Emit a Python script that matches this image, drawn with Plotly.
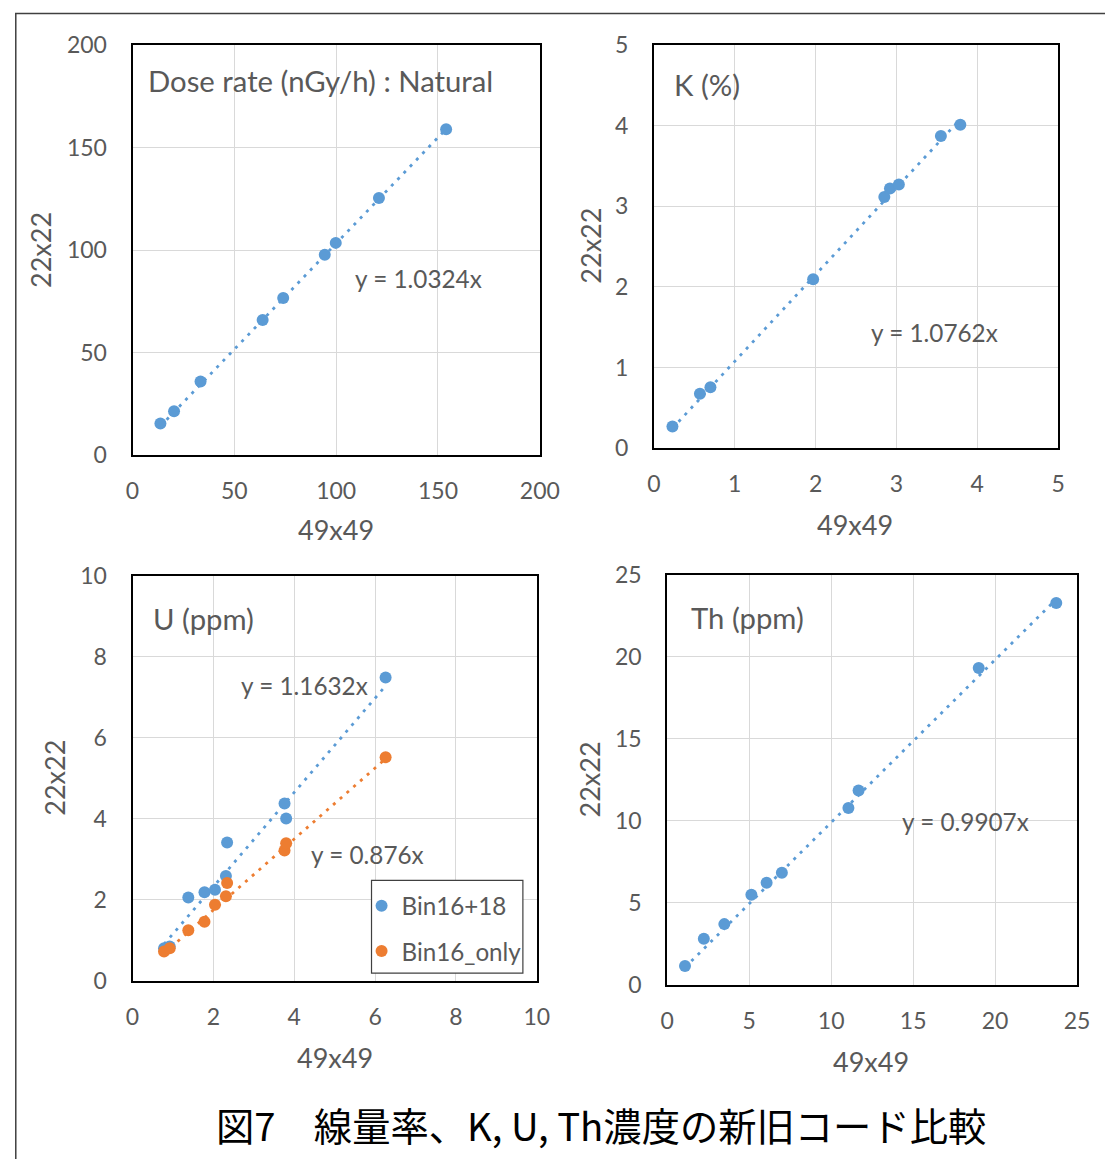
import plotly.graph_objects as go

# mapping from target-picture pixels to figure pixels (the page is photographed
# with a small scale/offset, compensated here)
A = 0.98
BX, BY = 13.0, 21.0
WF, HF = 1122, 1164
FONT = "Lato"
GRAY = "#595959"
BLUE = "#5B9BD5"
ORANGE = "#ED7D31"

# ---- data ----
dose_x = [13.7, 20.4, 33.4, 63.9, 74.0, 94.4, 99.8, 121.0, 154.0]
dose_y = [15.4, 21.4, 35.9, 65.9, 76.6, 97.7, 103.5, 125.4, 158.9]
dose_slope = 1.0324

k_x = [0.23, 0.57, 0.70, 1.97, 2.85, 2.92, 3.03, 3.55, 3.79]
k_y = [0.27, 0.675, 0.757, 2.095, 3.115, 3.22, 3.27, 3.87, 4.01]
k_slope = 1.0762

u_x = [0.78, 0.92, 1.38, 1.78, 2.04, 2.31, 2.34, 3.76, 3.80, 6.26]
u_y_bin1618 = [0.81, 0.85, 2.06, 2.19, 2.25, 2.59, 3.42, 4.38, 4.01, 7.49]
u_y_bin16 = [0.73, 0.81, 1.25, 1.46, 1.88, 2.09, 2.42, 3.22, 3.40, 5.52]
u_slope_1618 = 1.1632
u_slope_16 = 0.876

th_x = [1.08, 2.23, 3.48, 5.13, 6.06, 6.99, 11.05, 11.67, 19.0, 23.73]
th_y = [1.16, 2.82, 3.71, 5.50, 6.23, 6.84, 10.78, 11.85, 19.32, 23.28]
th_slope = 0.9907

dose_ticks = [0, 50, 100, 150, 200]
k_ticks = [0, 1, 2, 3, 4, 5]
u_ticks = [0, 2, 4, 6, 8, 10]
th_ticks = [0, 5, 10, 15, 20, 25]

panel_titles = ["Dose rate (nGy/h) : Natural", "K (%)", "U (ppm)", "Th (ppm)"]
x_title = "49x49"
y_title = "22x22"
legend_names = ["Bin16+18", "Bin16_only"]
fig_title = "図7　線量率、K, U, Th濃度の新旧コード比較"


def PX(p):
    return ((p - BX) / A) / WF


def PY(p):
    return 1 - ((p - BY) / A) / HF


# ---- layout geometry (pixels in the target picture) ----
boxes = {
    1: (131, 540, 43, 455),
    2: (654.5, 1060.5, 43, 448),
    3: (131, 537, 576, 983),
    4: (668, 1079.5, 575, 987),
}

fig = go.Figure()


def add_scatter(n, xs, ys, color, name=None, show=False, group=None):
    fig.add_trace(go.Scatter(
        x=xs, y=ys, mode="markers", name=name, showlegend=show,
        legendgroup=group,
        marker=dict(color=color, size=12),
        xaxis="x" if n == 1 else f"x{n}", yaxis="y" if n == 1 else f"y{n}",
    ))


def add_trend(n, xs, slope, color):
    lx = [min(xs), max(xs)]
    fig.add_trace(go.Scatter(
        x=lx, y=[slope * v for v in lx], mode="lines", showlegend=False,
        line=dict(color=color, width=2.8, dash="3px,6px"), hoverinfo="skip",
        xaxis="x" if n == 1 else f"x{n}", yaxis="y" if n == 1 else f"y{n}",
    ))


add_trend(1, dose_x, dose_slope, BLUE)
add_scatter(1, dose_x, dose_y, BLUE)
add_trend(2, k_x, k_slope, BLUE)
add_scatter(2, k_x, k_y, BLUE)
add_trend(3, u_x, u_slope_1618, BLUE)
add_trend(3, u_x, u_slope_16, ORANGE)
add_scatter(3, u_x, u_y_bin1618, BLUE, legend_names[0], True, "a")
add_scatter(3, u_x, u_y_bin16, ORANGE, legend_names[1], True, "b")
add_trend(4, th_x, th_slope, BLUE)
add_scatter(4, th_x, th_y, BLUE)

ticks_all = {1: dose_ticks, 2: k_ticks, 3: u_ticks, 4: th_ticks}
layout = {}
for n, (x0, x1, y0, y1) in boxes.items():
    t = ticks_all[n]
    common = dict(
        range=[t[0], t[-1]], tickvals=t, showgrid=True, gridcolor="#d9d9d9",
        gridwidth=1, zeroline=False, showline=True, mirror=True,
        linecolor="black", linewidth=2, ticks="",
        tickfont=dict(family=FONT, size=23, color=GRAY), fixedrange=True,
    )
    xa = dict(common, domain=[PX(x0), PX(x1)], anchor="y" if n == 1 else f"y{n}",
              ticklabelstandoff=14)
    ya = dict(common, domain=[PY(y1), PY(y0)], anchor="x" if n == 1 else f"x{n}",
              ticklabelstandoff=19)
    layout["xaxis" if n == 1 else f"xaxis{n}"] = xa
    layout["yaxis" if n == 1 else f"yaxis{n}"] = ya

annotations = []


def ann(text, x, y, size, color=GRAY, xanchor="left", angle=0, family=FONT):
    annotations.append(dict(
        text=text, x=PX(x), y=PY(y), xref="paper", yref="paper",
        xanchor=xanchor, yanchor="middle", showarrow=False, textangle=angle,
        font=dict(family=family, size=size, color=color),
    ))


# panel titles
ann(panel_titles[0], 145, 79, 29.3)
ann(panel_titles[1], 673, 83, 29.3)
ann(panel_titles[2], 150, 619, 29.3)
ann(panel_titles[3], 690, 618, 29.3)
# trend equations
ann(f"y = {dose_slope}x", 352, 278, 24.3)
ann(f"y = {k_slope}x", 871, 332, 24.3)
ann(f"y = {u_slope_1618}x", 238, 686, 24.3)
ann(f"y = {u_slope_16}x", 308, 856, 24.3)
ann(f"y = {th_slope}x", 902, 823, 24.3)
# axis titles
for (cx, cy) in [(335, 530), (857, 525), (334, 1060), (873, 1064)]:
    ann(x_title, cx, cy, 27, xanchor="center")
for (cx, cy) in [(38, 249), (590, 245), (53, 779), (590, 781)]:
    ann(y_title, cx, cy, 27, xanchor="center", angle=-90)
# figure caption
ann(fig_title, 601, 1127, 38.3, color="black", xanchor="center", family="Noto Sans CJK JP")

fig.update_layout(
    **layout,
    width=WF, height=HF,
    margin=dict(l=0, r=0, t=0, b=0),
    paper_bgcolor="white", plot_bgcolor="white",
    annotations=annotations,
    showlegend=True,
    legend=dict(
        x=PX(361), y=PY(885), xanchor="left", yanchor="top",
        bgcolor="rgba(0,0,0,0)", borderwidth=0,
        font=dict(family=FONT, size=24.2, color=GRAY),
        tracegroupgap=11, itemsizing="constant",
    ),
    shapes=[
        dict(type="line", xref="paper", yref="paper", x0=0, x1=1.0,
             y0=PY(11.5), y1=PY(11.5), line=dict(color="#404040", width=1.5)),
        dict(type="line", xref="paper", yref="paper", x0=0.8 / WF, x1=0.8 / WF,
             y0=0, y1=PY(11.5), line=dict(color="#404040", width=1.5)),
        # legend frame
        dict(type="rect", xref="paper", yref="paper", layer="above",
             x0=PX(371), x1=PX(523), y0=PY(975), y1=PY(882),
             fillcolor="white", line=dict(color="#404040", width=1.2)),
    ],
)

fig.write_html("out.html")
